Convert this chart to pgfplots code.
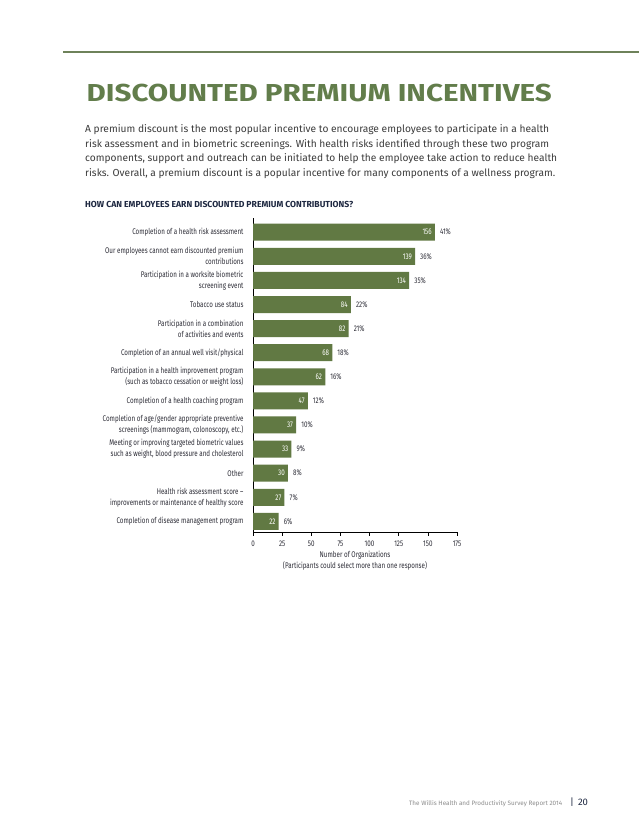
\documentclass[border=0pt]{standalone}
\usepackage{fontspec}
\setmainfont{Fira Sans}
\newfontfamily\cond[FakeStretch=0.76]{Fira Sans}
\usepackage{pgfplots}
\usepackage{pgfplotstable}
\pgfplotsset{compat=1.18}

\definecolor{bargreen}{RGB}{97,121,67}
\definecolor{titlegreen}{RGB}{98,125,75}
\definecolor{linegreen}{RGB}{110,130,90}
\definecolor{navy}{RGB}{30,40,65}
\definecolor{bodygray}{RGB}{60,60,60}
\definecolor{labelgray}{RGB}{45,45,55}
\definecolor{footgray}{RGB}{140,140,140}

% pos: 12 = top bar
\pgfplotstableread{
pos value pct
12 156 41
11 139 36
10 134 35
9  84  22
8  82  21
7  68  18
6  62  16
5  47  12
4  37  10
3  33  9
2  30  8
1  27  7
0  22  6
}\premium

\newcommand{\lblfont}{\cond\fontsize{8.2}{11}\selectfont}

\begin{document}
\begin{tikzpicture}
\fill[white] (0,0) rectangle (638pt,826pt);
\path[use as bounding box] (0,0) rectangle (638pt,826pt);

% header rule and title
\draw[linegreen, line width=2.5pt] (63pt,774pt) -- (640pt,774pt);
\node[anchor=base west, inner sep=0, text=titlegreen] at (86.5pt,724pt)
  {\resizebox{465pt}{17.4pt}{\bfseries DISCOUNTED PREMIUM INCENTIVES}};

% intro paragraph
\begin{scope}[every node/.style={anchor=base west, inner sep=0, text=bodygray}]
\node at (85pt,693pt) {\resizebox{464pt}{!}{\fontsize{10}{12}\selectfont A premium discount is the most popular incentive to encourage employees to participate in a health}};
\node at (85pt,678.5pt) {\resizebox{464pt}{!}{\fontsize{10}{12}\selectfont risk assessment and in biometric screenings. With health risks identified through these two program}};
\node at (85pt,664pt) {\resizebox{472pt}{!}{\fontsize{10}{12}\selectfont components, support and outreach can be initiated to help the employee take action to reduce health}};
\node at (85pt,649.5pt) {\resizebox{470pt}{!}{\fontsize{10}{12}\selectfont risks. Overall, a premium discount is a popular incentive for many components of a wellness program.}};
\end{scope}

\node[anchor=base west, inner sep=0, text=navy] at (85pt,618pt)
  {\resizebox{268pt}{6.2pt}{\cond\bfseries HOW CAN EMPLOYEES EARN DISCOUNTED PREMIUM CONTRIBUTIONS?}};

\begin{axis}[
  at={(253pt,294pt)}, anchor=south west,
  scale only axis, width=204pt, height=314pt,
  xmin=0, xmax=175, ymin=-0.44, ymax=12.59,
  enlargelimits=false,
  axis lines=left,
  axis line style={-, black, line width=0.7pt},
  tick align=outside,
  major tick length=4pt,
  xtick={0,25,50,75,100,125,150,175},
  xtick style={black, line width=0.5pt},
  ytick={0,...,12},
  ytick style={draw=none},
  yticklabels={
    {Completion of disease management program},
    {Health risk assessment score –\\improvements or maintenance of healthy score},
    {Other},
    {Meeting or improving targeted biometric values\\such as weight, blood pressure and cholesterol},
    {Completion of age/gender appropriate preventive\\screenings (mammogram, colonoscopy, etc.)},
    {Completion of a health coaching program},
    {Participation in a health improvement program\\(such as tobacco cessation or weight loss)},
    {Completion of an annual well visit/physical},
    {Participation in a combination\\of activities and events},
    {Tobacco use status},
    {Participation in a worksite biometric\\screening event},
    {Our employees cannot earn discounted premium\\contributions},
    {Completion of a health risk assessment}},
  yticklabel style={align=right, font=\lblfont, text=labelgray, xshift=-2pt},
  xticklabel style={font=\lblfont, text=labelgray, yshift=-1.5pt},
  /pgf/number format/assume math mode=true,
  xlabel={Number of Organizations\\(Participants could select more than one response)},
  xlabel style={align=center, font=\lblfont, text=labelgray, yshift=2pt},
  clip=false,
]
\addplot[xbar, bar width=17pt, bar shift=0pt, fill=bargreen, draw=none,
  nodes near coords, point meta=x,
  every node near coord/.append style={anchor=east, text=white,
    font=\lblfont, inner sep=3pt}]
  table[x=value, y=pos] {\premium};
\addplot[draw=none, mark=none,
  nodes near coords={\pgfmathprintnumber{\pgfplotspointmeta}\%},
  point meta=\thisrow{pct},
  every node near coord/.append style={anchor=west, text=labelgray,
    font=\lblfont, inner sep=0pt, xshift=5pt}]
  table[x=value, y=pos] {\premium};
\end{axis}

% footer
\node[anchor=base west, inner sep=0, text=footgray] at (409pt,20pt)
  {\resizebox{153pt}{!}{\fontsize{7.5}{9}\selectfont The Willis Health and Productivity Survey Report 2014}};
\node[anchor=base west, inner sep=0, text=navy] at (570pt,20pt)
  {\fontsize{9.5}{10}\selectfont |\hspace{4pt}20};
\end{tikzpicture}
\end{document}
